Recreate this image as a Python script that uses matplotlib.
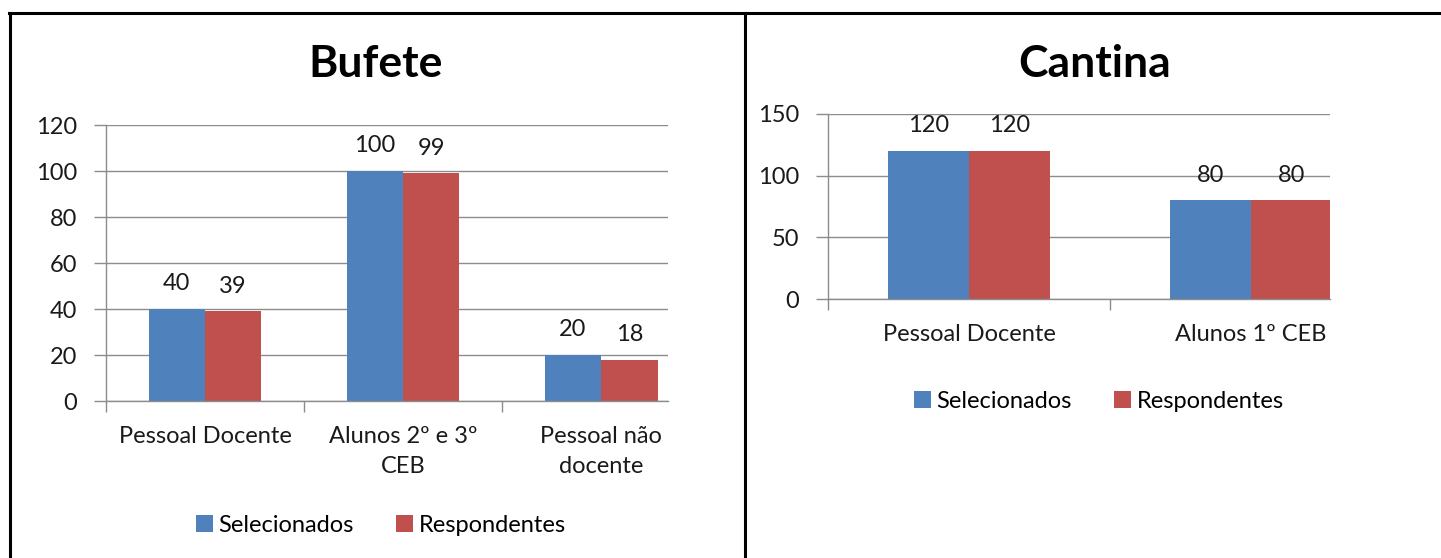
import matplotlib
matplotlib.use("Agg")
import matplotlib.pyplot as plt
import numpy as np
from matplotlib.lines import Line2D
from matplotlib.patches import Patch

# ---- data ----
bufete_categories = ["Pessoal Docente", "Alunos 2º e 3º\nCEB", "Pessoal não\ndocente"]
bufete_selecionados = [40, 100, 20]
bufete_respondentes = [39, 99, 18]
bufete_yticks = [0, 20, 40, 60, 80, 100, 120]

cantina_categories = ["Pessoal Docente", "Alunos 1º CEB"]
cantina_selecionados = [120, 80]
cantina_respondentes = [120, 80]
cantina_yticks = [0, 50, 100, 150]

series_names = ["Selecionados", "Respondentes"]
BLUE = "#4F81BD"
RED = "#C0504D"
GRID = "#8C8C8C"

plt.rcParams['font.family'] = ['Lato', 'DejaVu Sans']

W, H = 1441, 558
fig = plt.figure(figsize=(W / 100, H / 100), dpi=100)
fig.patch.set_facecolor("white")

FS = 17


def px_axes(left, top, right, bottom):
    return fig.add_axes([left / W, 1 - bottom / H, (right - left) / W, (bottom - top) / H])


def style(ax, cats, sel, resp, yticks, width, xright, fs=FS):
    x = np.arange(len(cats))
    ax.bar(x - width / 2, sel, width, color=BLUE, zorder=3)
    ax.bar(x + width / 2, resp, width, color=RED, zorder=3)
    for xi, v in zip(x - width / 2, sel):
        ax.annotate(str(v), (xi, v), xytext=(0, 18), textcoords="offset points",
                    ha="center", va="center", fontsize=fs, color="#1a1a1a")
    for xi, v in zip(x + width / 2, resp):
        ax.annotate(str(v), (xi, v), xytext=(0, 18), textcoords="offset points",
                    ha="center", va="center", fontsize=fs, color="#1a1a1a")
    ax.set_yticks(yticks)
    ax.set_yticklabels([str(t) for t in yticks], fontsize=fs, color="#1a1a1a")
    ax.grid(axis="y", color=GRID, lw=1, zorder=0)
    ax.set_xticks(x)
    ax.set_xticklabels(cats, fontsize=fs, color="#1a1a1a", linespacing=1.55, va="top")
    ax.set_xticks(np.arange(len(cats) + 1) - 0.5, minor=True)
    ax.set_xlim(-0.5, xright)
    ax.set_ylim(yticks[0], yticks[-1])
    ax.tick_params(axis="x", which="major", length=0, pad=18)
    ax.tick_params(axis="x", which="minor", length=8, color=GRID, width=1)
    ax.tick_params(axis="y", length=9, color=GRID, width=1, pad=12)
    for s in ["top", "right"]:
        ax.spines[s].set_visible(False)
    for s in ["left", "bottom"]:
        ax.spines[s].set_color(GRID)
        ax.spines[s].set_linewidth(1)
        ax.spines[s].set_zorder(4)


ax1 = px_axes(106, 125, 668, 401)
style(ax1, bufete_categories, bufete_selecionados, bufete_respondentes,
      bufete_yticks, 0.285, 2.338)

ax2 = px_axes(828, 114, 1330, 299)
style(ax2, cantina_categories, cantina_selecionados, cantina_respondentes,
      cantina_yticks, 0.287, 1.28)

fig.text(376 / W, 1 - 64 / H, "Bufete", fontsize=32, fontweight="bold",
         ha="center", va="center", color="black")
fig.text(1095 / W, 1 - 64 / H, "Cantina", fontsize=32, fontweight="bold",
         ha="center", va="center", color="black")

handles = [Patch(facecolor=BLUE), Patch(facecolor=RED)]
for cx, cy in [(381, 525), (1099, 401)]:
    fig.legend(handles, series_names, loc="center",
               bbox_to_anchor=(cx / W, 1 - cy / H), ncol=2, frameon=False,
               fontsize=FS, handlelength=0.7, handleheight=0.7,
               handletextpad=0.25, columnspacing=1.8, borderpad=0)

# frame lines
fig.add_artist(Line2D([9 / W, 1], [1 - 13 / H, 1 - 13 / H], color="black", lw=2.2,
                      transform=fig.transFigure))
fig.add_artist(Line2D([10 / W, 10 / W], [0, 1 - 13 / H], color="black", lw=2.2,
                      transform=fig.transFigure))
fig.add_artist(Line2D([745 / W, 745 / W], [0, 1 - 13 / H], color="black", lw=2.2,
                      transform=fig.transFigure))

fig.savefig("out.png", dpi=100)
